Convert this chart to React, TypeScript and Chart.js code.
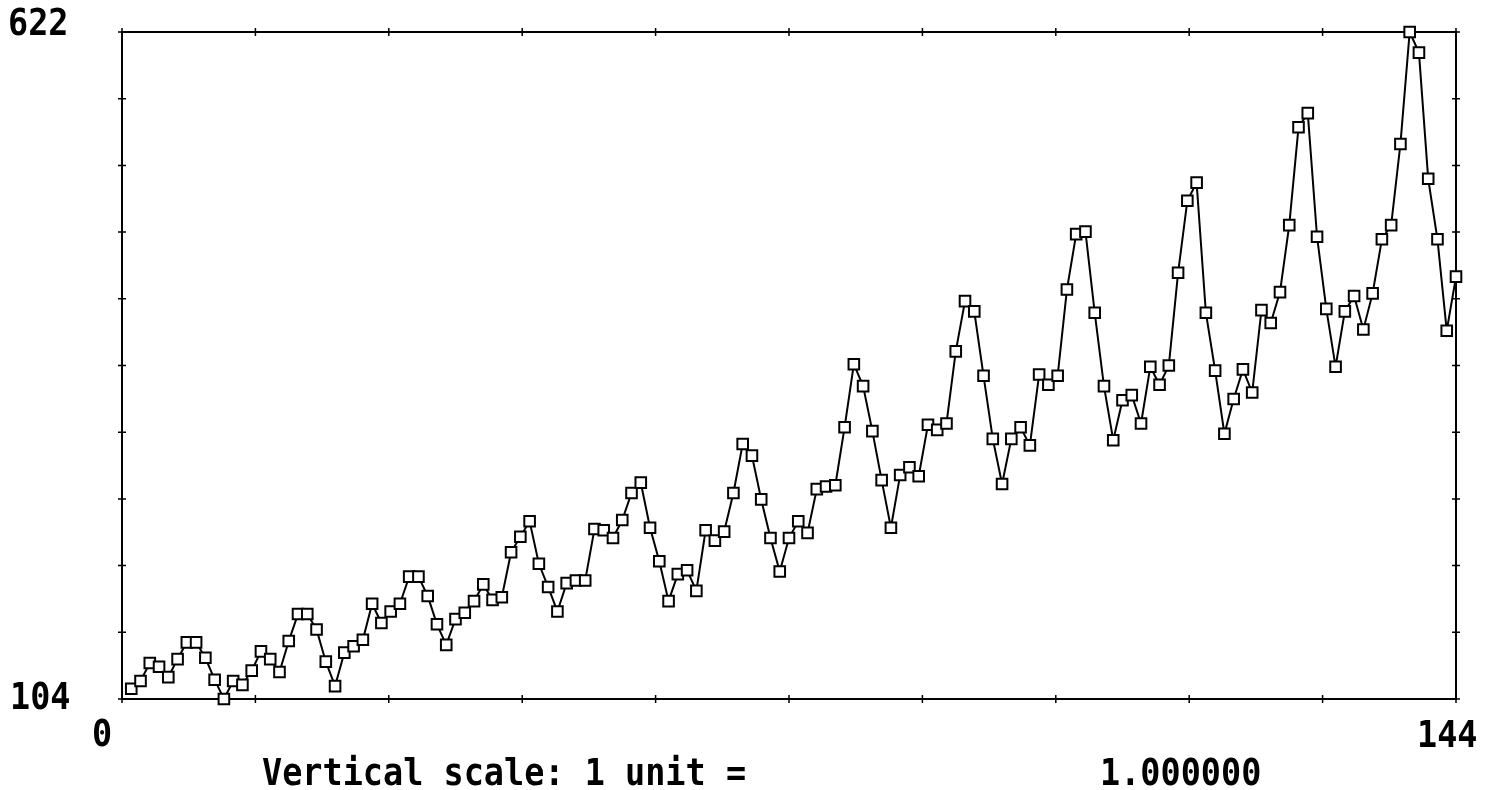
import React, { useEffect, useRef } from "react";
import { Chart, registerables } from "chart.js";

Chart.register(...registerables);

const passengers: number[] = [
  112, 118, 132, 129, 121, 135, 148, 148, 136, 119, 104, 118,
  115, 126, 141, 135, 125, 149, 170, 170, 158, 133, 114, 140,
  145, 150, 178, 163, 172, 178, 199, 199, 184, 162, 146, 166,
  171, 180, 193, 181, 183, 218, 230, 242, 209, 191, 172, 194,
  196, 196, 236, 235, 229, 243, 264, 272, 237, 211, 180, 201,
  204, 188, 235, 227, 234, 264, 302, 293, 259, 229, 203, 229,
  242, 233, 267, 269, 270, 315, 364, 347, 312, 274, 237, 278,
  284, 277, 317, 313, 318, 374, 413, 405, 355, 306, 271, 306,
  315, 301, 356, 348, 355, 422, 465, 467, 404, 347, 305, 336,
  340, 318, 362, 348, 363, 435, 491, 505, 404, 359, 310, 337,
  360, 342, 406, 396, 420, 472, 548, 559, 463, 407, 362, 405,
  417, 391, 419, 461, 472, 535, 622, 606, 508, 461, 390, 432,
];
const xMin = 0;
const xMax = 144;
const yMin = 104;
const yMax = 622;
const tickDivisions = 10;
const yTopLabel = "622";
const yBottomLabel = "104";
const xLeftLabel = "0";
const xRightLabel = "144";
const captionLabel = "Vertical scale: 1 unit =";
const captionValue = "1.000000";

const FONT = "bold 33.5px 'DejaVu Sans Mono', monospace";

const framePlugin = {
  id: "frame",
  beforeDatasetsDraw(chart: any) {
    const { ctx, chartArea: a, scales } = chart;
    ctx.save();
    ctx.strokeStyle = "#000";
    ctx.lineWidth = 2;
    ctx.strokeRect(a.left, a.top, a.right - a.left, a.bottom - a.top);
    ctx.lineWidth = 1.5;
    for (let i = 0; i <= tickDivisions; i++) {
      const xv = xMin + ((xMax - xMin) * i) / tickDivisions;
      const px = scales.x.getPixelForValue(xv);
      ctx.beginPath();
      ctx.moveTo(px, a.top - 4);
      ctx.lineTo(px, a.top + 4);
      ctx.moveTo(px, a.bottom - 4);
      ctx.lineTo(px, a.bottom + 4);
      ctx.stroke();
      const yv = yMin + ((yMax - yMin) * i) / tickDivisions;
      const py = scales.y.getPixelForValue(yv);
      ctx.beginPath();
      ctx.moveTo(a.left - 4, py);
      ctx.lineTo(a.left + 4, py);
      ctx.moveTo(a.right - 4, py);
      ctx.lineTo(a.right + 4, py);
      ctx.stroke();
    }
    ctx.restore();
  },
  afterDraw(chart: any) {
    const { ctx } = chart;
    const txt = (s: string, x: number, yBase: number) => {
      ctx.save();
      ctx.translate(x, yBase);
      ctx.scale(1, 1.1);
      ctx.font = FONT;
      ctx.fillStyle = "#000";
      ctx.textBaseline = "alphabetic";
      ctx.textAlign = "left";
      ctx.fillText(s, 0, 0);
      ctx.restore();
    };
    txt(yTopLabel, 8, 35);
    txt(yBottomLabel, 10, 709);
    txt(xLeftLabel, 92, 746);
    txt(xRightLabel, 1417, 747);
    txt(captionLabel, 262, 785);
    txt(captionValue, 1100, 785);
  },
};

export default function App() {
  const ref = useRef<HTMLCanvasElement | null>(null);
  useEffect(() => {
    if (!ref.current) return;
    const chart = new Chart(ref.current, {
      type: "line",
      data: {
        datasets: [
          {
            data: passengers.map((v, i) => ({ x: i + 1, y: v })),
            borderColor: "#000",
            borderWidth: 2,
            pointStyle: "rect",
            pointRadius: 7.5,
            pointBorderWidth: 2,
            pointBackgroundColor: "#fff",
            pointBorderColor: "#000",
            tension: 0,
            clip: false as any,
          },
        ],
      },
      options: {
        animation: false,
        responsive: false,
        maintainAspectRatio: false,
        layout: { padding: { left: 122, top: 32, right: 39, bottom: 91 } },
        plugins: { legend: { display: false }, tooltip: { enabled: false } },
        scales: {
          x: { type: "linear", min: xMin, max: xMax, display: false },
          y: { type: "linear", min: yMin, max: yMax, display: false },
        },
      },
      plugins: [framePlugin],
    });
    return () => chart.destroy();
  }, []);
  return (
    <div style={{ position: "absolute", left: 0, top: 0, width: 1495, height: 790, background: "#fff" }}>
      <canvas ref={ref} width={1495} height={790} style={{ display: "block" }} />
    </div>
  );
}
